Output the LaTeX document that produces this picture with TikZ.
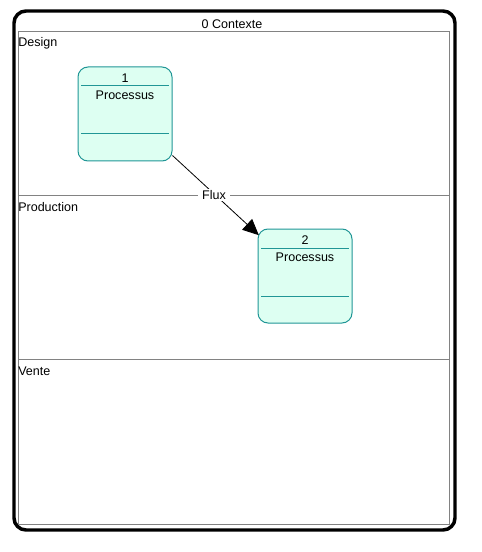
\documentclass[tikz,border=0pt]{standalone}
\usepackage{fontspec}
\setmainfont{Liberation Sans}
\usetikzlibrary{arrows.meta}
\definecolor{procfill}{RGB}{221,255,242}
\definecolor{procline}{RGB}{32,150,150}
\definecolor{lanegray}{RGB}{130,130,130}
\tikzset{
  px/.style={x=0.75pt,y=-0.75pt},
  txt/.style={inner sep=0pt,font=\fontsize{9.4}{10}\selectfont},
  proc/.style={draw=procline,fill=procfill,rounded corners=7.5pt,line width=0.75pt,
    minimum width=70.5pt,minimum height=70.5pt,inner sep=0pt},
  sep/.style={draw=procline,line width=0.75pt},
  lane/.style={draw=lanegray,line width=0.75pt},
  flow/.style={line width=0.6pt,-{Triangle[length=12pt,width=11pt]}}
}
\begin{document}
\begin{tikzpicture}[px]
\useasboundingbox (0,0) rectangle (481,552);
% outer frame
\draw[line width=2.6pt,rounded corners=9pt] (14,11) rectangle (455,530);
\node[txt] (title) at (232,24) {0 Contexte};
\draw[lane] (18,32) rectangle (449,524);
\draw[lane] (18,195) -- (449,195);
\draw[lane] (18,359) -- (449,359);
\node[txt,anchor=west] (l1) at (18,43) {Design};
\node[txt,anchor=west] (l2) at (18,207) {Production};
\node[txt,anchor=west] (l3) at (18,371) {Vente};
% process 1
\node[proc] (p1) at (125,114) {};
\draw[sep] (81,86) -- (169,86);
\draw[sep] (81,134) -- (169,134);
\node[txt] (n1) at (125,78) {1};
\node[txt] (t1) at (125,95) {Processus};
% process 2
\node[proc] (p2) at (305,276) {};
\draw[sep] (261,248) -- (349,248);
\draw[sep] (261,296) -- (349,296);
\node[txt] (n2) at (305,240) {2};
\node[txt] (t2) at (305,257) {Processus};
% flow
\draw[flow] (p1.south east) ++(0,-6) -- ([xshift=1pt,yshift=-5pt]p2.north west);
\node[txt,fill=white,inner xsep=3pt,inner ysep=1pt] (flux) at (214,195) {Flux};
\end{tikzpicture}
\end{document}
